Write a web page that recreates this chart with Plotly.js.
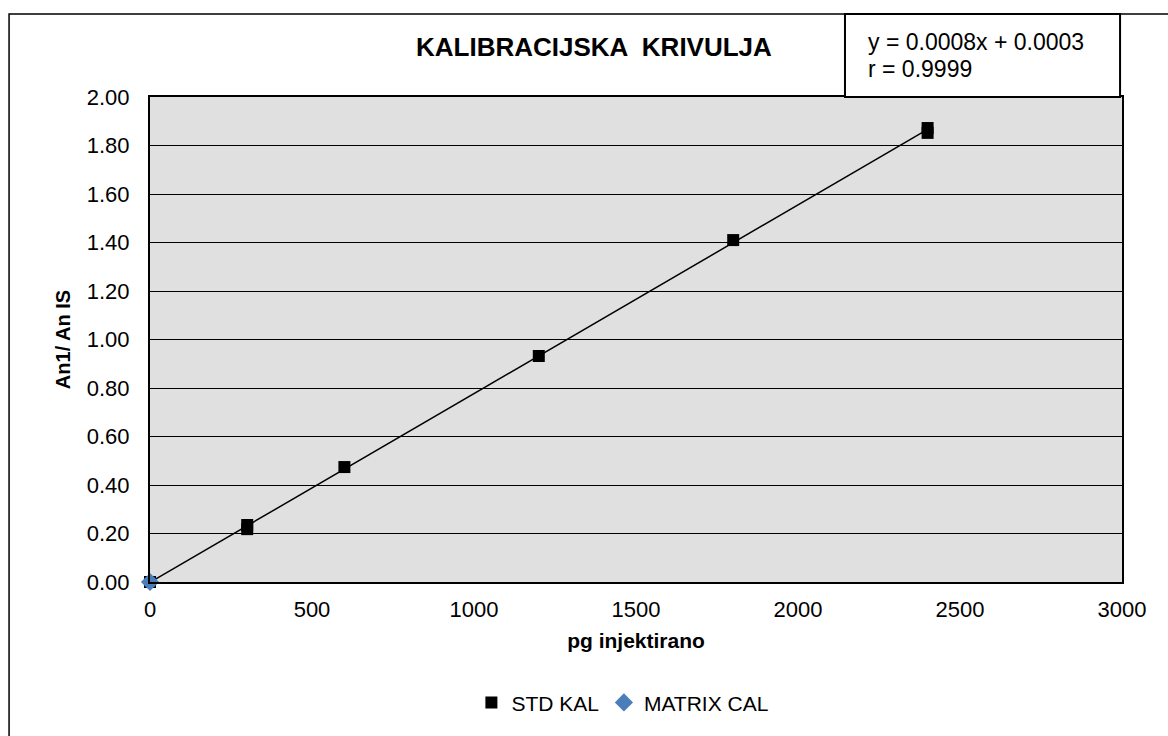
<!DOCTYPE html>
<html>
<head>
<meta charset="utf-8">
<script src="https://cdn.plot.ly/plotly-3.0.1.min.js"></script>
<style>
html,body{margin:0;padding:0;background:#fff;}
#chart{width:1168px;height:736px;}
</style>
</head>
<body>
<div id="chart"></div>
<script>
// Data
var stdX = [0, 300, 300, 600, 1200, 1800, 2400, 2400];
var stdY = [0, 0.235, 0.218, 0.474, 0.932, 1.41, 1.872, 1.852];
var matrixX = [0];
var matrixY = [0];
var stdName = "STD KAL";
var matrixName = "MATRIX CAL";
var titleText = "KALIBRACIJSKA  KRIVULJA";
var eqLines = ["y = 0.0008x + 0.0003", "r = 0.9999"];
var xTicks = [0, 500, 1000, 1500, 2000, 2500, 3000];
var yTicks = [0, 0.2, 0.4, 0.6, 0.8, 1.0, 1.2, 1.4, 1.6, 1.8, 2.0];

// Linear trendline (least squares) through STD KAL points
var n = stdX.length, sx = 0, sy = 0, sxx = 0, sxy = 0;
for (var i = 0; i < n; i++) { sx += stdX[i]; sy += stdY[i]; sxx += stdX[i]*stdX[i]; sxy += stdX[i]*stdY[i]; }
var slope = (n*sxy - sx*sy) / (n*sxx - sx*sx);
var icpt = (sy - slope*sx) / n;
var xmin = Math.min.apply(null, stdX), xmax = Math.max.apply(null, stdX);
var trendX = [xmin, xmax];
var trendY = [icpt + slope*xmin, icpt + slope*xmax];

var font = "Liberation Sans, Arial, sans-serif";

var traces = [
  {x: trendX, y: trendY, mode: "lines", line: {color: "#000", width: 1.5}, showlegend: false, hoverinfo: "skip", cliponaxis: false},
  {x: stdX, y: stdY, mode: "markers", name: stdName, cliponaxis: false, marker: {symbol: "square", size: 12, color: "#000"}},
  {x: matrixX, y: matrixY, mode: "markers", name: matrixName, cliponaxis: false, marker: {symbol: "diamond", size: 14, color: "#4a7ebb"}}
];

var layout = {
  width: 1168, height: 736,
  margin: {l: 150, r: 46, t: 97, b: 154},
  paper_bgcolor: "#fff",
  plot_bgcolor: "#e0e0e0",
  font: {family: font, size: 21, color: "#000"},
  showlegend: true,
  legend: {orientation: "h", x: 0.486, xanchor: "center", y: -0.249, yanchor: "middle", font: {family: font, size: 21, color: "#000"}, itemwidth: 30, traceorder: "normal"},
  xaxis: {
    range: [0, 3000], tickvals: xTicks, ticktext: xTicks.map(String),
    showgrid: false, zeroline: false, showline: true, linecolor: "#000", linewidth: 2, mirror: true,
    ticks: "outside", ticklen: 7, tickcolor: "rgba(0,0,0,0)", tickfont: {family: font, size: 22},
    title: {text: "<b>pg injektirano</b>", font: {family: font, size: 21}, standoff: 12}
  },
  yaxis: {
    range: [0, 2.0], tickvals: yTicks, ticktext: yTicks.map(function(v){return v.toFixed(2);}),
    showgrid: true, gridcolor: "#000", gridwidth: 1, zeroline: false,
    showline: true, linecolor: "#000", linewidth: 2, mirror: true,
    ticks: "outside", ticklen: 14, tickcolor: "rgba(0,0,0,0)", tickfont: {family: font, size: 22},
    title: {text: "<b>An1/ An IS</b>", font: {family: font, size: 20}, standoff: 11}
  },
  shapes: [
    {type: "rect", xref: "paper", yref: "paper", x0: -0.145, x1: 1.06, y0: -0.34, y1: 1.171, line: {color: "#000", width: 1.5}, fillcolor: "rgba(0,0,0,0)", layer: "below"},
    {type: "rect", xref: "paper", yref: "paper", x0: 0.715, x1: 0.998, y0: 1.0, y1: 1.171, line: {color: "#000", width: 2}, fillcolor: "#fff"}
  ],
  annotations: [
    {xref: "paper", yref: "paper", x: (594-150)/972, y: (582-47)/485, xanchor: "center", yanchor: "middle", showarrow: false, text: "<b>" + titleText + "</b>", font: {family: font, size: 26, color: "#000"}},
    {xref: "paper", yref: "paper", x: (866-150)/972, y: (582-42)/485, xanchor: "left", yanchor: "middle", align: "left", showarrow: false, text: eqLines[0], font: {family: font, size: 23, color: "#000"}},
    {xref: "paper", yref: "paper", x: (866-150)/972, y: (582-69)/485, xanchor: "left", yanchor: "middle", align: "left", showarrow: false, text: eqLines[1], font: {family: font, size: 23, color: "#000"}}
  ]
};

Plotly.newPlot("chart", traces, layout, {displayModeBar: false, staticPlot: true});
</script>
</body>
</html>
